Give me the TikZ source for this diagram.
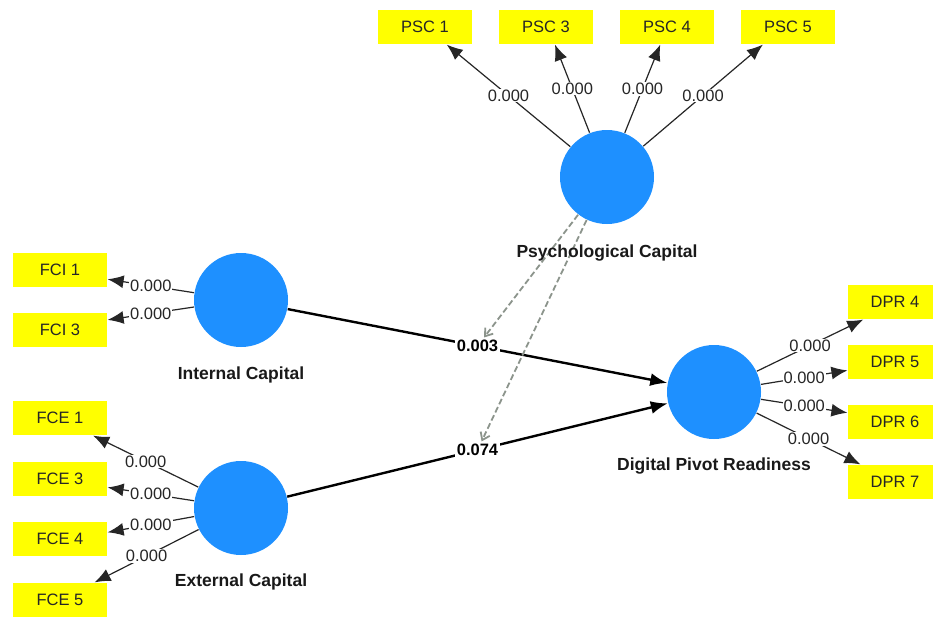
\documentclass[tikz,border=0pt]{standalone}
\usepackage{fontspec}
\setmainfont{Liberation Sans}
\usetikzlibrary{arrows.meta}
\definecolor{lvblue}{RGB}{30,144,255}
\definecolor{indyellow}{RGB}{255,255,0}
\definecolor{modgray}{RGB}{140,148,140}
\tikzset{every picture/.style={line width=1.2pt}}

\begin{document}
\begin{tikzpicture}[x=1pt, y=-1pt,
    every node/.style={font=\fontsize{16.5}{18}\selectfont, text=black!85},
    lv/.style={circle, fill=lvblue, minimum size=94pt, inner sep=0pt},
    ind/.style={rectangle, fill=indyellow, minimum width=94pt, minimum height=34pt, inner sep=0pt},
    lvname/.style={font=\fontsize{17.5}{19}\selectfont\bfseries, text=black!90},
    ldlab/.style={fill=white, inner sep=1pt, pos=0.5},
    coef/.style={fill=white, inner sep=1.5pt, pos=0.5, font=\fontsize{16.5}{18}\selectfont\bfseries, text=black},
    loadarrow/.style={-{Latex[length=16pt,width=13pt]}, black!85},
    pathline/.style={-{Latex[length=17pt,width=13pt]}, line width=2.4pt, black},
    modarrow/.style={-{Straight Barb[length=7pt,width=10pt]}, modgray, line width=1.8pt, dash pattern=on 6pt off 3pt}]
    \fill[white] (0,0) rectangle (933,616);
    \useasboundingbox (0,0) rectangle (933,616);
    % latent variables
    \node[lv] (psy)  at (607,177) {};
    \node[lv] (intc) at (241,300) {};
    \node[lv] (extc) at (241,508) {};
    \node[lv] (dpr)  at (714,392) {};
    % indicators
    \node[ind] (psc1) at (425,27) {PSC 1};
    \node[ind] (psc3) at (546,27) {PSC 3};
    \node[ind] (psc4) at (667,27) {PSC 4};
    \node[ind] (psc5) at (788,27) {PSC 5};
    \node[ind] (fci1) at (60,270) {FCI 1};
    \node[ind] (fci3) at (60,330) {FCI 3};
    \node[ind] (fce1) at (60,418) {FCE 1};
    \node[ind] (fce3) at (60,479) {FCE 3};
    \node[ind] (fce4) at (60,539) {FCE 4};
    \node[ind] (fce5) at (60,600) {FCE 5};
    \node[ind] (dpr4) at (895,302) {DPR 4};
    \node[ind] (dpr5) at (895,362) {DPR 5};
    \node[ind] (dpr6) at (895,422) {DPR 6};
    \node[ind] (dpr7) at (895,482) {DPR 7};
    % outer loadings
    \draw[loadarrow] (psy) -- node[ldlab] (lp1) {0.000} (psc1.-39);
    \draw[loadarrow] (psy) -- node[ldlab] (lp3) {0.000} (psc3.-63);
    \draw[loadarrow] (psy) -- node[ldlab] (lp4) {0.000} (psc4.-111);
    \draw[loadarrow] (psy) -- node[ldlab] (lp5) {0.000} (psc5.-145);
    \draw[loadarrow] (intc) -- node[ldlab] (li1) {0.000} (fci1.-11);
    \draw[loadarrow] (intc) -- node[ldlab] (li3) {0.000} (fci3.12);
    \draw[loadarrow] (extc) -- node[ldlab] (le1) {0.000} (fce1.-28);
    \draw[loadarrow] (extc) -- node[ldlab] (le3) {0.000} (fce3.-10);
    \draw[loadarrow] (extc) -- node[ldlab] (le4) {0.000} (fce4.8);
    \draw[loadarrow] (extc) -- node[ldlab] (le5) {0.000} (fce5.27);
    \draw[loadarrow] (dpr) -- node[ldlab] (ld4) {0.000} (dpr4.-151);
    \draw[loadarrow] (dpr) -- node[ldlab] (ld5) {0.000} (dpr5.-170);
    \draw[loadarrow] (dpr) -- node[ldlab] (ld6) {0.000} (dpr6.169);
    \draw[loadarrow] (dpr) -- node[ldlab] (ld7) {0.000} (dpr7.153);
    % structural paths
    \draw[pathline] (intc) -- node[coef] (c003) {0.003} (dpr);
    \draw[pathline] (extc) -- node[coef] (c074) {0.074} (dpr);
    % moderating effects
    \draw[modarrow] (psy) -- (c003);
    \draw[modarrow] (psy) -- (c074);
    % names
    \node[lvname] (psyname)  at (607,253) {Psychological Capital};
    \node[lvname] (intcname) at (241,375) {Internal Capital};
    \node[lvname] (extcname) at (241,582) {External Capital};
    \node[lvname] (dprname)  at (714,466) {Digital Pivot Readiness};
\end{tikzpicture}
\end{document}
